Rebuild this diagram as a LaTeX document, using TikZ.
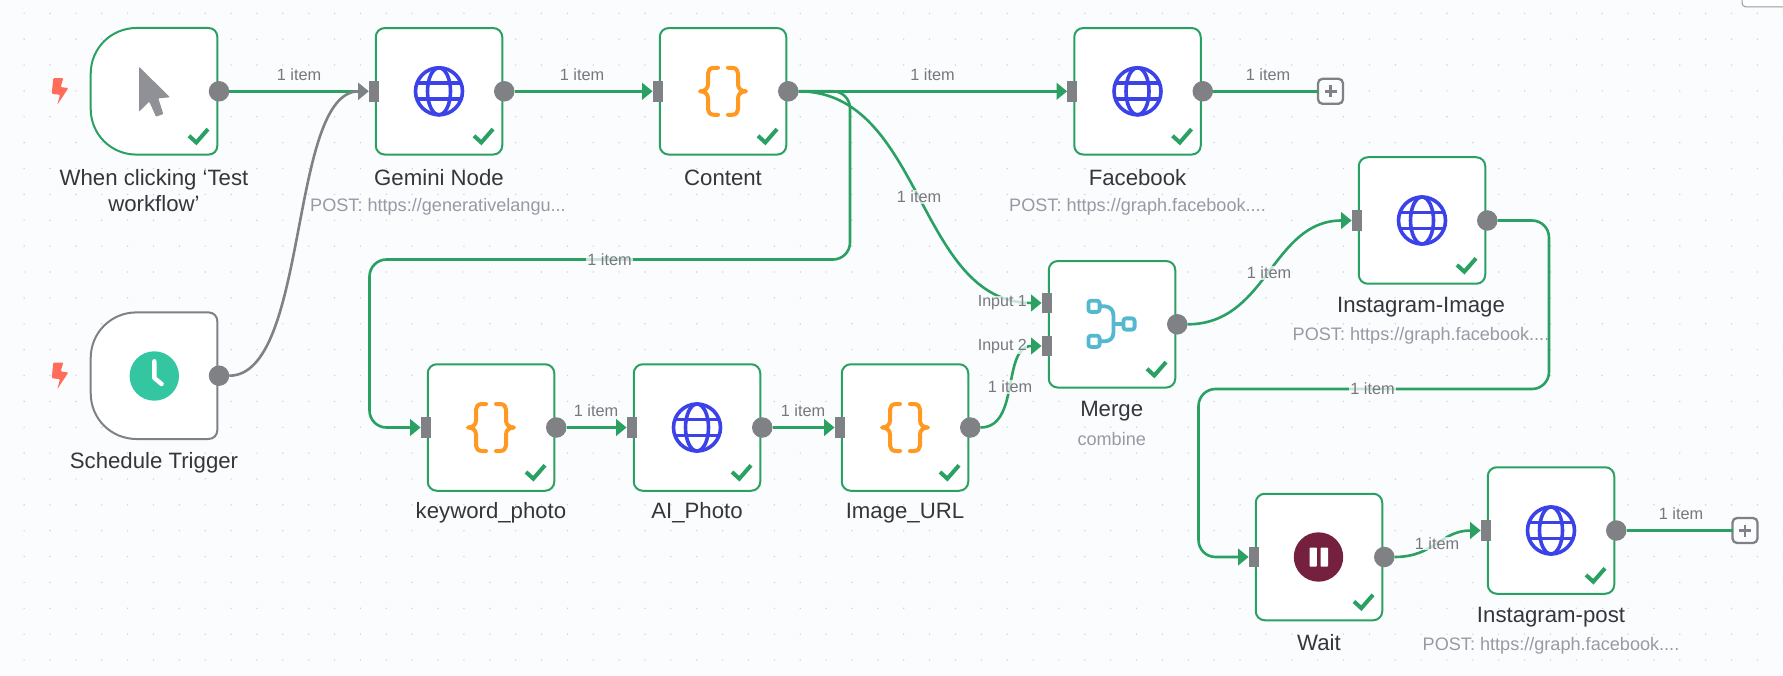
\documentclass[tikz,border=0pt]{standalone}
\usepackage{fontspec}
\setmainfont{Liberation Sans}
\usetikzlibrary{arrows.meta}
\definecolor{bgc}{HTML}{FBFCFE}
\definecolor{dotc}{HTML}{CFD2D8}
\definecolor{okgreen}{HTML}{2AA163}
\definecolor{wiregray}{HTML}{808186}
\definecolor{portgray}{HTML}{7F8185}
\definecolor{globec}{HTML}{3B43E8}
\definecolor{bracec}{HTML}{FF9922}
\definecolor{boltc}{HTML}{FF6D5A}
\definecolor{clockc}{HTML}{34C6A0}
\definecolor{pausec}{HTML}{76203F}
\definecolor{mergec}{HTML}{54B8CF}
\definecolor{cursorc}{HTML}{909196}
\definecolor{namec}{HTML}{35353B}
\definecolor{subc}{HTML}{979AA3}
\definecolor{itemc}{HTML}{77787E}
\tikzset{
  card/.style={rectangle,rounded corners=9pt,draw=okgreen,line width=2pt,fill=white,minimum width=126.5pt,minimum height=126.5pt,inner sep=0pt},
  ghost/.style={rectangle,minimum width=128pt,minimum height=128pt,inner sep=0pt,outer sep=0pt},
  inport/.style={rectangle,fill=portgray,minimum width=10.3pt,minimum height=20.7pt,inner sep=0pt,outer sep=0pt},
  outport/.style={circle,fill=portgray,minimum size=20.5pt,inner sep=0pt,outer sep=0pt},
  wire/.style={draw=okgreen,line width=2.6pt},
  graywire/.style={draw=wiregray,line width=2.6pt},
  tip/.style={-{Triangle[length=10.5pt,width=16.5pt]}},
  chkmark/.style={draw=okgreen,line width=4pt},
  namelab/.style={text=namec,font=\fontsize{22.2}{25}\selectfont,inner sep=0pt,align=center},
  sublab/.style={text=subc,font=\fontsize{18.1}{20}\selectfont,inner sep=0pt},
  itemlab/.style={text=itemc,font=\fontsize{16.3}{18}\selectfont,inner sep=1pt},
  itembg/.style={itemlab,fill=bgc,fill opacity=.75,text opacity=1},
  inputlab/.style={text=itemc,font=\fontsize{16}{18}\selectfont,inner sep=0pt,anchor=east},
  plusbox/.style={rectangle,rounded corners=4.5pt,draw=wiregray,line width=2.3pt,fill=bgc,minimum size=25pt,inner sep=0pt,outer sep=0pt},
}
\newcommand{\wfports}[1]{%
  \node[inport,xshift=-1pt] (#1-in) at (#1.west) {};
  \node[outport,xshift=1pt] (#1-out) at (#1.east) {};
}
\newcommand{\wfcheck}[2]{%
  \draw[chkmark,shift={(#1,#2)}] (35,44.5) -- (42.3,51.2) -- (54,37.8);
}
\newcommand{\wfcard}[3]{%
  \node[card] (#1) at (#2,#3) {};
  \wfports{#1}
  \wfcheck{#2}{#3}
}
\newcommand{\wfglobe}[2]{%
  \begin{scope}[shift={(#1,#2)},draw=globec,line width=3.6pt]
    \draw (0,0) circle (23.5pt);
    \draw (0,0) ellipse (11.5pt and 23.5pt);
    \draw (-22,-8) -- (22,-8);
    \draw (-22,8) -- (22,8);
  \end{scope}
}
\newcommand{\wfbraces}[2]{%
  \begin{scope}[shift={(#1,#2)},draw=bracec,line width=4pt,line cap=round,line join=round]
    \draw (-5,-23.5) -- (-9,-23.5) .. controls (-13,-23.5) and (-15,-21) .. (-15,-18) -- (-15,-7) .. controls (-15,-3) and (-18,0) .. (-23,0) .. controls (-18,0) and (-15,3) .. (-15,7) -- (-15,18) .. controls (-15,21) and (-13,23.5) .. (-9,23.5) -- (-5,23.5);
    \draw (5,-23.5) -- (9,-23.5) .. controls (13,-23.5) and (15,-21) .. (15,-18) -- (15,-7) .. controls (15,-3) and (18,0) .. (23,0) .. controls (18,0) and (15,3) .. (15,7) -- (15,18) .. controls (15,21) and (13,23.5) .. (9,23.5) -- (5,23.5);
  \end{scope}
}
\newcommand{\wfbolt}[1]{%
  \fill[boltc,shift={(0,#1)},rounded corners=1pt] (53.3,-13.2) -- (63.3,-13.2) -- (60.7,-4.2) -- (68.3,-3.2) -- (57.3,13.5) -- (60,3.5) -- (51.7,2.5) -- cycle;
}
\newcommand{\wftrigger}[4]{%
  \draw[draw=#4,line width=2pt,fill=white,shift={(#2,#3)}] (-17.5,-63.3) -- (54.5,-63.3) .. controls (59.5,-63.3) and (63.3,-59.5) .. (63.3,-54.5) -- (63.3,54.5) .. controls (63.3,59.5) and (59.5,63.3) .. (54.5,63.3) -- (-17.5,63.3) .. controls (-43,63.3) and (-63.3,43) .. (-63.3,17.5) -- (-63.3,-17.5) .. controls (-63.3,-43) and (-43,-63.3) .. (-17.5,-63.3) -- cycle;
  \node[ghost] (#1) at (#2,#3) {};
  \node[outport,xshift=1pt] (#1-out) at (#1.east) {};
}
\begin{document}
\begin{tikzpicture}[x=1pt,y=-1pt]
\useasboundingbox (0,0) rectangle (1783,676);
\fill[bgc] (0,0) rectangle (1783,676);
\fill[dotc] \foreach \i in {0,...,70} {\foreach \j in {0,...,26} {(\i*25.87-1.74,\j*25.87+13.3) circle (0.8pt)}};
% cut-off panel at the top right
\begin{scope}
\clip (0,0) rectangle (1783,676);
\draw[draw=black!40,line width=1pt,fill=white,rounded corners=4pt] (1742,-10) rectangle (1795,7);
\end{scope}

% triggers
\wftrigger{tone}{154}{91.3}{okgreen}
\wfcheck{154}{91.3}
\wftrigger{ttwo}{154}{375.7}{wiregray}
\wfbolt{91.3}
\wfbolt{375.7}
\fill[cursorc,rounded corners=.8pt] (139,66.7) -- (170,97.3) -- (158.3,98.3) -- (163.3,114) -- (156,116.7) -- (149.3,101.7) -- (139,111.7) -- cycle;
\fill[clockc] (154.3,376) circle (24.7pt);
\draw[white,line width=4.4pt,line cap=round,line join=round] (154.3,361.3) -- (154.3,378) -- (161.6,384);

% cards
\wfcard{gem}{439}{91.3}
\wfcard{cont}{723}{91.3}
\wfcard{fb}{1137.5}{91.3}
\wfcard{igi}{1422}{220.5}
\wfcard{kw}{491}{427.5}
\wfcard{aip}{697}{427.5}
\wfcard{imu}{905}{427.5}
\wfcard{wt}{1319}{557}
\wfcard{igp}{1551}{530.5}
% merge
\node[card] (mrg) at (1112,324.3) {};
\node[inport] (mrg-ia) at (1046.7,303) {};
\node[inport] (mrg-ib) at (1046.7,346) {};
\node[outport,xshift=1pt] (mrg-out) at (mrg.east) {};
\wfcheck{1112}{324.3}
% plus boxes
\node[plusbox] (fbplus) at (1330.5,91.3) {};
\node[plusbox] (igplus) at (1745,530.5) {};
\draw[wiregray,line width=2.6pt] (1324.5,91.3) -- (1336.5,91.3) (1330.5,85.3) -- (1330.5,97.3);
\draw[wiregray,line width=2.6pt] (1739,530.5) -- (1751,530.5) (1745,524.5) -- (1745,536.5);

% icons
\wfglobe{439}{91.3}
\wfglobe{1137.5}{91.3}
\wfglobe{1422}{220.5}
\wfglobe{697}{427.5}
\wfglobe{1551}{530.5}
\wfbraces{723}{91.3}
\wfbraces{491}{427.5}
\wfbraces{905}{427.5}
\fill[pausec] (1318.5,557) circle (24.7pt);
\fill[white,rounded corners=.8pt] (1309.5,547.5) rectangle (1316.8,566.7);
\fill[white,rounded corners=.8pt] (1320.6,547.5) rectangle (1328,566.7);
\begin{scope}[shift={(1111.7,324)},draw=mergec,line width=3.8pt,line join=round]
  \draw[rounded corners=2.5pt] (-23.3,-23.3) rectangle (-12.1,-12.1);
  \draw[rounded corners=2.5pt] (-23.3,11.7) rectangle (-12.1,22.9);
  \draw[rounded corners=2.5pt] (11.7,-5.6) rectangle (22.9,5.6);
  \draw (-12.1,-17.7) -- (-7,-17.7) .. controls (-2,-17.7) and (1.7,-14) .. (1.7,-9) -- (1.7,9) .. controls (1.7,14) and (-2,17.3) .. (-7,17.3) -- (-12.1,17.3);
  \draw (1.7,0) -- (11.7,0);
\end{scope}

% connectors
\draw[wire,tip] (tone-out.east) -- (gem-in.west);
\draw[graywire,tip] (ttwo-out.east) .. controls +(80,0) and +(-80,0) .. (gem-in.west);
\draw[wire,tip] (gem-out.east) -- (cont-in.west);
\draw[wire,tip] (cont-out.east) -- (fb-in.west);
\draw[wire] (fb-out.east) -- (fbplus.west);
\draw[wire,tip] (cont-out.east) .. controls +(125,0) and +(-125,0) .. (mrg-ia.west);
\draw[wire,tip,rounded corners=17pt] (cont-out.east) -- (850,91.3) -- (850,259.5) -- (369.5,259.5) -- (369.5,427.5) -- (kw-in.west);
\draw[wire,tip] (kw-out.east) -- (aip-in.west);
\draw[wire,tip] (aip-out.east) -- (imu-in.west);
\draw[wire,tip] (imu-out.east) .. controls +(40,0) and +(-40,0) .. (mrg-ib.west);
\draw[wire,tip] (mrg-out.east) .. controls +(80,0) and +(-80,0) .. (igi-in.west);
\draw[wire,tip,rounded corners=17pt] (igi-out.east) -- (1549,220.5) -- (1549,389) -- (1198.5,389) -- (1198.5,557) -- (wt-in.west);
\draw[wire,tip] (wt-out.east) .. controls +(40,0) and +(-40,0) .. (igp-in.west);
\draw[wire] (igp-out.east) -- (igplus.west);

% connector labels
\node[itemlab] (la) at (299,75) {1 item};
\node[itemlab] (lb) at (582,75) {1 item};
\node[itemlab] (lc) at (932.5,75) {1 item};
\node[itemlab] (ld) at (1268,75) {1 item};
\node[itemlab] (le) at (1681,514) {1 item};
\node[itemlab] (lf) at (596,410.5) {1 item};
\node[itemlab] (lg) at (803,410.5) {1 item};
\node[itembg] (lh) at (1010,386.7) {1 item};
\node[itembg] (li) at (919,197) {1 item};
\node[itembg] (lj) at (1269,273) {1 item};
\node[itembg] (lk) at (609.5,259.5) {1 item};
\node[itembg] (ll) at (1372.5,389) {1 item};
\node[itembg] (lm) at (1437,543.5) {1 item};
\node[inputlab,fill=bgc,fill opacity=.75,text opacity=1] (ina) at (1027,303) {Input 1};
\node[inputlab,fill=bgc,fill opacity=.75,text opacity=1] (inb) at (1027,346.7) {Input 2};

% names
\node[namelab] (n1) at (154,190.5) {When clicking ‘Test\\[1pt]workflow’};
\node[namelab] (n2) at (154,463) {Schedule Trigger};
\node[namelab] (n3) at (439,177.5) {Gemini Node};
\node[sublab] (s3) at (438,206.5) {POST: https://generativelangu...};
\node[namelab] (n4) at (723,177.5) {Content};
\node[namelab] (n5) at (1137.5,177.5) {Facebook};
\node[sublab] (s5) at (1137.5,206.5) {POST: https://graph.facebook....};
\node[namelab] (n6) at (1421,307) {Instagram-Image};
\node[sublab] (s6) at (1421,335.5) {POST: https://graph.facebook....};
\node[namelab] (n7) at (1111.7,411) {Merge};
\node[sublab] (s7) at (1111.7,439) {combine};
\node[namelab] (n8) at (491,513) {keyword\_photo};
\node[namelab] (n9) at (697,513) {AI\_Photo};
\node[namelab] (n10) at (905,513) {Image\_URL};
\node[namelab] (n11) at (1319,642.5) {Wait};
\node[namelab] (n12) at (1551,617) {Instagram-post};
\node[sublab] (s12) at (1551,645.7) {POST: https://graph.facebook....};
\end{tikzpicture}
\end{document}
